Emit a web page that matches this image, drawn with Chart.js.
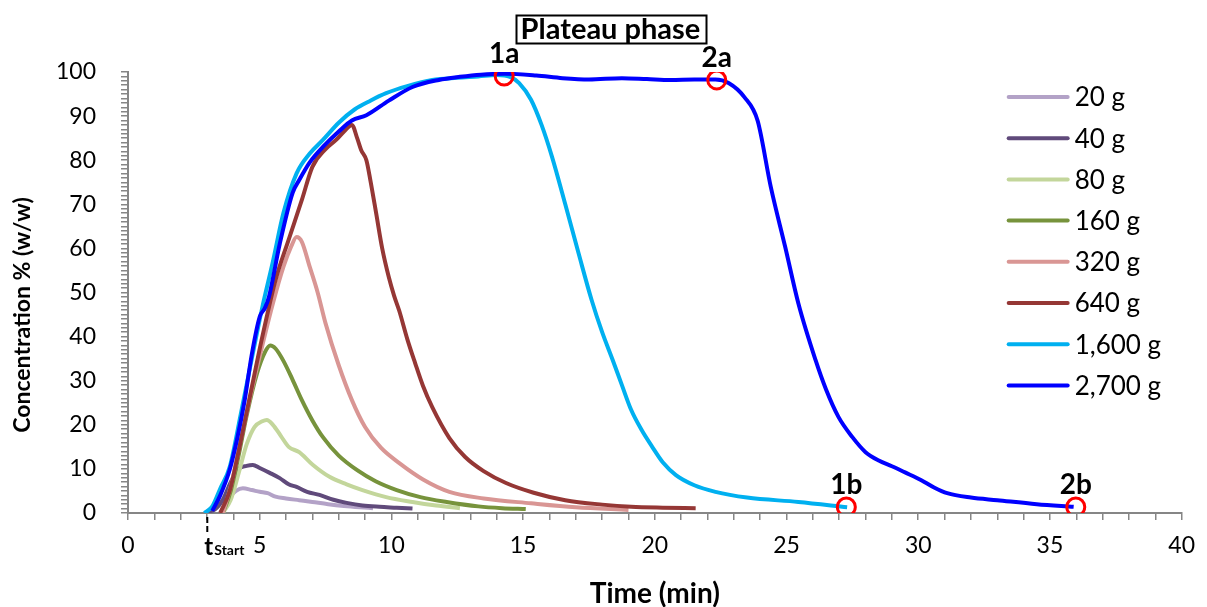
<!DOCTYPE html>
<html>
<head>
<meta charset="utf-8">
<script src="https://cdn.jsdelivr.net/npm/chart.js@4.4.1/dist/chart.umd.min.js"></script>
<style>
  html, body { margin: 0; padding: 0; background: #fff; }
  #chart { display: block; }
</style>
</head>
<body>
<canvas id="chart" width="1207" height="607"></canvas>
<script>
// Elution curves: time (min) and concentration % (w/w) per batch size
const t20 = [3.5, 3.7, 3.9, 4.1, 4.36, 4.7, 5.0, 5.3, 5.6, 6.0, 6.5, 7.0, 7.6, 8.2, 8.8, 9.3];
const c20 = [0, 1.5, 3.8, 5.0, 5.6, 5.2, 4.8, 4.5, 3.7, 3.3, 2.9, 2.5, 2.0, 1.6, 1.3, 1.1];

const t40 = [3.0, 3.3, 3.6, 3.9, 4.2, 4.5, 4.74, 5.0, 5.38, 5.76, 6.1, 6.4, 6.8, 7.27, 7.8, 8.3, 8.9, 9.55, 10.2, 10.8];
const c40 = [0.3, 0.8, 3.0, 7.0, 10.0, 10.7, 10.9, 10.2, 9.1, 7.9, 6.5, 5.9, 4.8, 4.1, 3.0, 2.3, 1.7, 1.4, 1.2, 1.0];

const t80 = [3.6, 3.9, 4.2, 4.5, 4.8, 5.1, 5.27, 5.5, 5.8, 6.1, 6.5, 7.0, 7.65, 8.3, 8.9, 9.8, 10.8, 11.7, 12.6];
const c80 = [0, 3, 9, 15.5, 19.5, 20.8, 21.1, 20.0, 17.5, 15.0, 13.8, 11.0, 8.2, 6.5, 5.2, 3.6, 2.5, 1.7, 1.1];

const t160 = [3.6, 3.9, 4.2, 4.5, 4.9, 5.2, 5.4, 5.6, 5.9, 6.25, 6.6, 7.0, 7.4, 8.0, 8.7, 9.4, 10.2, 11.1, 12.1, 13.3, 14.2, 15.1];
const c160 = [0, 5, 13, 22, 31.7, 36.5, 38, 37.3, 34.5, 30.2, 25.6, 21, 17.2, 13, 9.7, 7.2, 5.2, 3.6, 2.5, 1.5, 1.1, 0.9];

const t320 = [3.6, 3.9, 4.3, 4.7, 5.1, 5.5, 5.9, 6.2, 6.4, 6.6, 6.9, 7.2, 7.5, 8.0, 8.5, 9.0, 9.6, 10.3, 11.2, 12.2, 13.5, 15.3, 17.0, 19.0];
const c320 = [0, 6, 17, 28, 38, 47.5, 55.8, 60.5, 62.6, 61.5, 55.8, 50, 43, 33.5, 25.6, 19.5, 14.8, 11.3, 7.6, 4.8, 3.3, 2.2, 1.3, 0.7];

const t640 = [3.5, 3.86, 4.2, 4.6, 5.1, 5.6, 6.1, 6.6, 7.0, 7.5, 7.9, 8.2, 8.5, 8.7, 8.85, 9.05, 9.2, 9.42, 9.65, 9.9, 10.1, 10.3, 10.6, 10.9, 11.2, 11.55, 12.2, 12.8, 13.5, 14.35, 15.4, 16.6, 18.0, 19.1, 20.3, 21.55];
const c640 = [0, 5, 14, 25.6, 40, 52.8, 62, 71, 78.5, 82.5, 84.6, 86.5, 88, 85, 82.3, 80, 75.5, 68, 60, 53.5, 49.3, 45.8, 39.5, 34, 28.8, 24, 17, 12.7, 9.5, 6.8, 4.6, 2.9, 1.9, 1.4, 1.2, 1.1];

const t1600 = [2.9, 3.2, 3.5, 3.86, 4.3, 4.7, 5.1, 5.5, 5.9, 6.4, 6.9, 7.4, 8.0, 8.6, 9.2, 9.8, 10.6, 11.55, 12.5, 13.3, 14.0, 14.5, 14.85, 15.3, 15.7, 16.1, 16.6, 17.1, 17.6, 18.0, 18.4, 18.75, 19.1, 19.5, 19.9, 20.3, 20.8, 21.5, 22.3, 23.5, 25.45, 27.3];
const c1600 = [0, 1.5, 5.5, 10.4, 23, 35, 46.7, 57, 68, 77, 81.5, 84.6, 88.5, 91.5, 93.5, 95.2, 96.8, 98.2, 98.7, 99.0, 99.3, 98.9, 97.5, 93.7, 88, 80.7, 70, 59, 48.3, 41, 34.7, 29, 23.4, 18.8, 15, 11.5, 8.6, 6.3, 4.8, 3.5, 2.5, 1.3];

const t2700 = [3.2, 3.5, 3.86, 4.15, 4.43, 4.7, 5.0, 5.2, 5.35, 5.76, 6.25, 6.5, 6.9, 7.4, 8.0, 8.5, 9.05, 9.9, 10.8, 11.8, 12.6, 13.4, 14.3, 15.5, 16.5, 17.5, 18.75, 19.7, 20.6, 21.5, 22.3, 22.8, 23.4, 23.9, 24.4, 24.95, 25.45, 26.1, 26.5, 26.97, 27.5, 28.0, 28.5, 29.0, 29.5, 30.1, 30.6, 31.1, 32.0, 33.0, 34.5, 35.9];
const c2700 = [0.5, 4, 9.8, 17, 25.6, 36, 44.5, 46.5, 49, 61, 72.6, 75.5, 79.5, 83, 86.5, 89, 90.2, 93.5, 96.6, 98.2, 98.9, 99.4, 99.6, 99.2, 98.6, 98.3, 98.6, 98.4, 98.2, 98.3, 98.3, 97.5, 94.3, 89, 74, 60.3, 47.5, 34.7, 28, 21.8, 17.2, 13.8, 11.9, 10.6, 9.2, 7.5, 5.8, 4.5, 3.5, 2.9, 2.0, 1.4];

// Start / end of plateau for 1,600 g (1) and 2,700 g (2)
const markerNames = ['1a', '2a', '1b', '2b'];
const markerTimes = [14.28, 22.35, 27.27, 35.98];
const markerConc = [99.1, 98.2, 1.36, 1.36];

const tStart = 3.01;

const seriesLabels = ['20 g', '40 g', '80 g', '160 g', '320 g', '640 g', '1,600 g', '2,700 g'];
const seriesColors = ['#B3A2C7', '#604A7B', '#C3D69B', '#77933C', '#D99694', '#953735', '#00B0F0', '#0000FF'];
const seriesTimes = [t20, t40, t80, t160, t320, t640, t1600, t2700];
const seriesConc = [c20, c40, c80, c160, c320, c640, c1600, c2700];

const FONT = 'Lato, "Open Sans", sans-serif';
const AXIS_GREY = '#868686';

const toPoints = (ts, cs) => ts.map((t, i) => ({ x: t, y: cs[i] }));

const datasets = seriesLabels.map((label, i) => ({
    label: label,
    data: toPoints(seriesTimes[i], seriesConc[i]),
    borderColor: seriesColors[i],
    backgroundColor: seriesColors[i],
    borderWidth: 4,
    pointRadius: 0,
    tension: 0.4,
    cubicInterpolationMode: 'monotone',
    showLine: true,
    fill: false,
    // later series sit on top
    order: seriesLabels.length - i
}));

datasets.push({
    label: 'markers',
    data: toPoints(markerTimes, markerConc),
    showLine: false,
    pointStyle: 'circle',
    pointRadius: 9,
    pointBorderWidth: 3,
    pointBorderColor: '#FF0000',
    pointBackgroundColor: 'rgba(0,0,0,0)',
    order: 0
});

const overlay = {
    id: 'overlay',
    afterDraw(chart) {
        const { ctx, chartArea } = chart;
        const xs = chart.scales.x;
        const ys = chart.scales.y;
        ctx.save();

        // marker labels
        ctx.fillStyle = '#000';
        ctx.font = 'bold 28px ' + FONT;
        ctx.textAlign = 'center';
        ctx.textBaseline = 'alphabetic';
        markerNames.forEach((name, i) => {
            const px = xs.getPixelForValue(markerTimes[i]);
            const py = ys.getPixelForValue(markerConc[i]);
            ctx.fillText(name, px, py - 13);
        });

        // plateau box centred between 1a and 2a
        const cx = (xs.getPixelForValue(markerTimes[0]) + xs.getPixelForValue(markerTimes[1])) / 2;
        ctx.font = 'bold 29px ' + FONT;
        const label = 'Plateau phase';
        const w = ctx.measureText(label).width;
        ctx.fillText(label, cx, 39);
        ctx.strokeStyle = '#000';
        ctx.lineWidth = 2;
        ctx.strokeRect(Math.round(cx - w / 2 - 5) + 0.5, 15.5, Math.round(w + 10), 28);

        // t_start marker below the axis
        const sx = xs.getPixelForValue(tStart);
        ctx.beginPath();
        ctx.setLineDash([6, 3]);
        ctx.lineWidth = 2;
        ctx.moveTo(sx, chartArea.bottom + 4);
        ctx.lineTo(sx, chartArea.bottom + 21);
        ctx.stroke();
        ctx.setLineDash([]);
        ctx.textAlign = 'left';
        ctx.font = 'bold 24px ' + FONT;
        ctx.fillText('t', sx - 3, 555);
        ctx.font = 'bold 14px ' + FONT;
        ctx.fillText('Start', sx + 7, 555);

        // y axis title
        ctx.save();
        ctx.translate(23, 315);
        ctx.rotate(-Math.PI / 2);
        ctx.textAlign = 'center';
        ctx.textBaseline = 'middle';
        ctx.font = 'bold 23px ' + FONT;
        ctx.fillText('Concentration % (w/w)', 0, 0);
        ctx.restore();

        // legend inside the plot, right side
        ctx.font = '26px ' + FONT;
        ctx.textBaseline = 'middle';
        ctx.textAlign = 'left';
        ctx.lineCap = 'round';
        const lx = chartArea.right - 173;
        seriesLabels.forEach((name, i) => {
            const ly = 97 + i * 41.2;
            ctx.beginPath();
            ctx.strokeStyle = seriesColors[i];
            ctx.lineWidth = 4;
            ctx.moveTo(lx, ly);
            ctx.lineTo(lx + 59, ly);
            ctx.stroke();
            ctx.fillStyle = '#000';
            ctx.fillText(name, lx + 66, ly + 1);
        });
        ctx.restore();
    }
};

new Chart(document.getElementById('chart').getContext('2d'), {
    type: 'scatter',
    data: { datasets: datasets },
    options: {
        responsive: false,
        animation: false,
        devicePixelRatio: 1,
        layout: { padding: { left: 0, right: 22, top: 72, bottom: 0 } },
        plugins: {
            legend: { display: false },
            tooltip: { enabled: false }
        },
        scales: {
            x: {
                type: 'linear',
                min: 0,
                max: 40,
                afterFit: (scale) => { scale.height = 94; },
                ticks: {
                    stepSize: 1,
                    autoSkip: false,
                    maxRotation: 0,
                    padding: 12,
                    color: '#000',
                    font: { family: FONT, size: 23 },
                    callback: (v) => (v % 5 === 0 ? v : '')
                },
                grid: {
                    drawOnChartArea: false,
                    drawTicks: true,
                    tickLength: 7,
                    color: AXIS_GREY,
                    lineWidth: 1.5
                },
                border: { color: AXIS_GREY, width: 2 },
                title: {
                    display: true,
                    text: 'Time (min)',
                    color: '#000',
                    font: { family: FONT, size: 28, weight: 'bold', lineHeight: 0.9 },
                    padding: { top: 0, bottom: 0 }
                }
            },
            y: {
                min: 0,
                max: 100,
                afterFit: (scale) => { scale.width = 128; },
                ticks: {
                    stepSize: 1,
                    autoSkip: false,
                    padding: 25,
                    color: '#000',
                    font: { family: FONT, size: 23 },
                    callback: (v) => (v % 10 === 0 ? v : '')
                },
                grid: {
                    drawOnChartArea: false,
                    drawTicks: true,
                    tickLength: 7,
                    color: AXIS_GREY,
                    lineWidth: 1.5
                },
                border: { color: AXIS_GREY, width: 2 }
            }
        }
    },
    plugins: [overlay]
});
</script>
</body>
</html>
